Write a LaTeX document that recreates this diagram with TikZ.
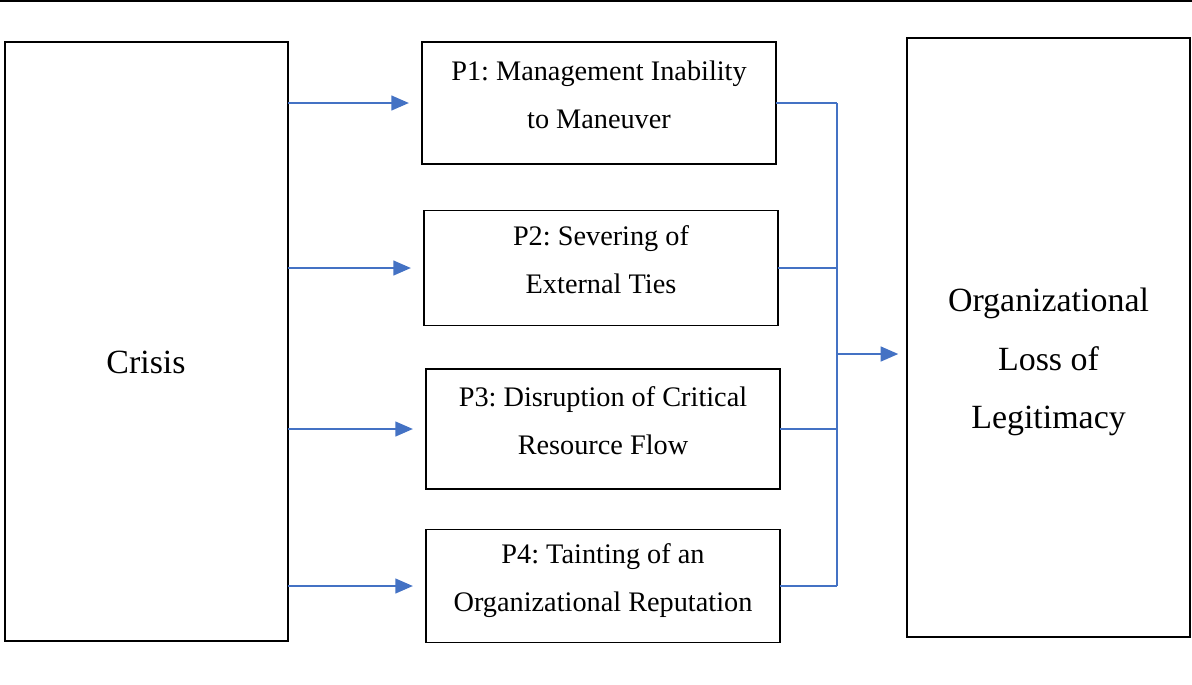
\documentclass[tikz,border=0pt]{standalone}
\usepackage{fontspec}
\setmainfont{Liberation Serif}
\usetikzlibrary{arrows.meta}
\definecolor{linkblue}{RGB}{68,114,196}
\frenchspacing

\begin{document}
\begin{tikzpicture}[x=0.02cm,y=-0.02cm,
		bigbox/.style={draw,line width=1.1pt,inner sep=0pt,outer sep=0pt,minimum width=5.66cm,minimum height=11.98cm},
		propbox/.style={draw,line width=1.1pt,inner sep=0pt,outer sep=0pt,minimum width=7.08cm,text depth=9.5pt,align=center,font=\fontsize{16.1}{27.2}\selectfont},
		bigtext/.style={align=center,font=\fontsize{19.3}{33.2}\selectfont},
		link/.style={linkblue,line width=0.9pt},
		feed/.style={link,-{Triangle[length=10pt,width=8.5pt]}}]
		\useasboundingbox (0,0) rectangle (1192,684);
		%rule on top
		\draw[line width=1pt] (0,1) -- (1192,1);
		%Crisis
		\node[bigbox] (crisis) at (146.5,341.5) {};
		\node[bigtext] (crisistext) at (146,362) {Crisis};
		%Loss of legitimacy
		\node[bigbox] (loss) at (1048.5,337.5) {};
		\node[bigtext] (losstext) at (1048.5,362) {Organizational\\Loss of\\Legitimacy};
		%propositions
		\node[propbox,minimum height=2.44cm] (p1) at (599,103) {P1: Management Inability\\to Maneuver};
		\node[propbox,minimum height=2.30cm] (p2) at (601,268) {P2: Severing of\\External Ties};
		\node[propbox,minimum height=2.40cm] (p3) at (603,429) {P3: Disruption of Critical\\Resource Flow};
		\node[propbox,minimum height=2.26cm] (p4) at (603,586) {P4: Tainting of an\\Organizational Reputation};
		%arrows crisis -> P
		\foreach \ii in {1,...,4}{
			\draw[feed,shorten >=7.5pt] (crisis.east |- p\ii.west) -- (p\ii.west);
		}
		%bundle P -> loss
		\coordinate (join) at (837,354);
		\foreach \ii in {1,...,4}{
			\draw[link] (p\ii.east) -- (p\ii.east -| join);
		}
		\draw[link] (p1.east -| join) -- (p4.east -| join);
		\draw[feed,shorten >=5pt] (join) -- (join -| loss.west);
\end{tikzpicture}
\end{document}
